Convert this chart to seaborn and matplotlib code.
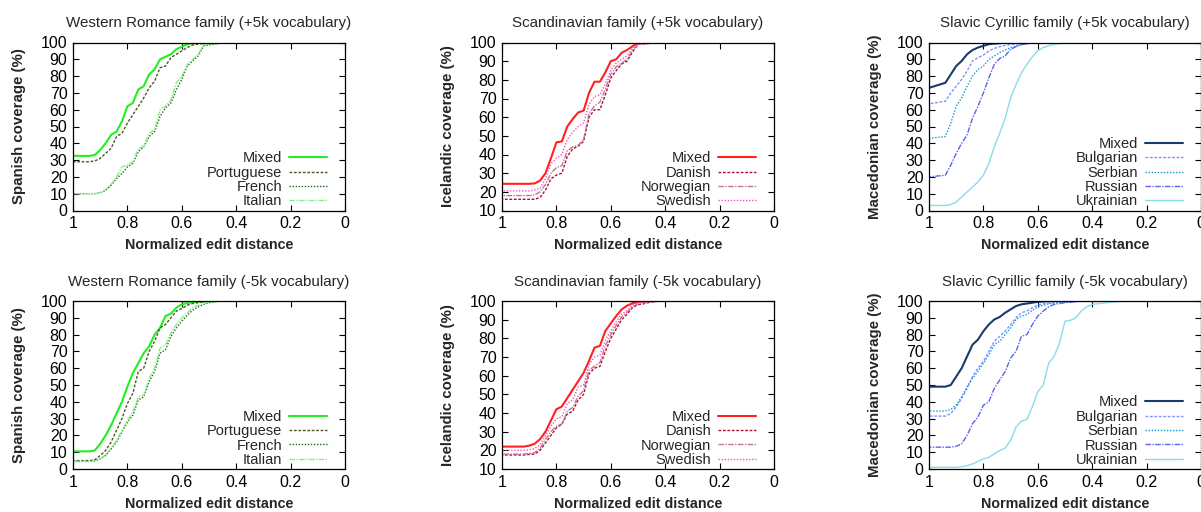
import numpy as np
import pandas as pd
import matplotlib
matplotlib.use("Agg")
import matplotlib.pyplot as plt
import seaborn as sns

# Normalized edit distance grid (shared by all series)
X = [1.00, 0.94, 0.92, 0.90, 0.88, 0.86, 0.84, 0.82, 0.80, 0.78,
     0.76, 0.74, 0.72, 0.70, 0.68, 0.66, 0.64, 0.62, 0.60, 0.58,
     0.56, 0.54, 0.52, 0.50, 0.48, 0.46, 0.44, 0.42, 0.40, 0.30, 0.00]

# --- Western Romance (+5k) : Spanish coverage
rom_p_mixed = [32.5, 32.5, 33, 36, 40, 45, 47, 53, 62, 64,
               72, 74, 81, 84, 90, 91.5, 93, 96, 97.5, 99,
               99.5, 100, 100, 100, 100, 100, 100, 100, 100, 100, 100]
rom_p_portuguese = [29, 29, 29.5, 31, 34, 37, 44, 46, 52, 57,
                    62, 67, 73, 77, 85, 86, 91, 93, 95, 97,
                    98.5, 99, 99.5, 100, 100, 100, 100, 100, 100, 100, 100]
rom_p_french = [10, 10, 10, 10.5, 12, 15, 19, 22, 26, 28,
                35, 38, 44, 47, 56, 61, 64, 72, 78, 86,
                89, 92, 98, 98.5, 99, 99.5, 100, 100, 100, 100, 100]
rom_p_italian = [10, 10, 10, 10.5, 12.5, 15.5, 20, 26, 27, 29,
                 37, 38, 46, 48, 60, 62, 66, 76, 80, 87,
                 90, 93, 98.5, 99, 99.3, 99.7, 100, 100, 100, 100, 100]

# --- Scandinavian (+5k) : Icelandic coverage
sca_p_mixed = [24.3, 24.3, 24.3, 24.3, 24.5, 26, 30, 38, 46.5, 47,
               55, 59, 62.5, 63.5, 73, 79, 79, 84, 90, 91,
               94.5, 96, 98, 100, 100, 100, 100, 100, 100, 100, 100]
sca_p_danish = [16, 16, 16, 16, 16, 17, 21, 27, 29, 30,
                39, 43, 44.5, 47, 60, 64, 64, 72, 81, 85,
                88.5, 90, 95, 99, 99.3, 99.5, 99.7, 100, 100, 100, 100]
sca_p_norwegian = [18, 18, 18, 18, 18.3, 20, 24, 30, 33, 34,
                   42, 44, 45, 48, 62, 66, 68, 75, 83, 87,
                   89, 91, 96, 99, 99.3, 99.5, 99.7, 100, 100, 100, 100]
sca_p_swedish = [20.5, 20.5, 20.5, 20.5, 21, 22, 27, 35, 38, 40,
                 48, 52, 55, 57, 67, 71, 72, 78, 85, 89,
                 91, 93, 97, 99, 99.3, 99.5, 99.7, 100, 100, 100, 100]

# --- Slavic Cyrillic (+5k) : Macedonian coverage
sla_p_mixed = [73, 76, 81, 86, 89, 93, 95.5, 97, 98, 99,
               99.3, 99.6, 99.8, 100, 100, 100, 100, 100, 100, 100,
               100, 100, 100, 100, 100, 100, 100, 100, 100, 100, 100]
sla_p_bulgarian = [63.5, 65, 70, 74, 78, 83, 89, 91, 92.5, 95,
                   96.5, 97.5, 98.3, 98.8, 99.2, 99.5, 99.7, 99.9, 100, 100,
                   100, 100, 100, 100, 100, 100, 100, 100, 100, 100, 100]
sla_p_serbian = [43, 44, 52, 62, 67, 74, 80, 84, 86, 90,
                 92, 94, 95.5, 97, 98, 98.7, 99.2, 99.6, 100, 100,
                 100, 100, 100, 100, 100, 100, 100, 100, 100, 100, 100]
sla_p_russian = [20, 21, 27, 34, 40, 45, 55, 62, 70, 79,
                 87, 90.5, 92, 96, 97.5, 98.8, 99.3, 99.7, 100, 100,
                 100, 100, 100, 100, 100, 100, 100, 100, 100, 100, 100]
sla_p_ukrainian = [3, 3, 3.5, 5, 8, 11, 14, 17, 21, 28,
                   38, 46, 55, 67, 75, 82, 87, 91.5, 95, 97,
                   98, 99, 99.3, 99.6, 99.8, 100, 100, 100, 100, 100, 100]

# --- Western Romance (-5k)
rom_m_mixed = [10.5, 10.5, 11, 15, 20, 26, 33, 40, 49, 57,
               63, 69, 73, 80, 84, 91, 92.5, 96, 98, 98.8,
               99.3, 99.6, 99.8, 100, 100, 100, 100, 100, 100, 100, 100]
rom_m_portuguese = [5, 5, 5.5, 8, 11, 16, 23, 30, 39, 45,
                    58, 60, 70, 76, 84, 86, 90, 94, 95.5, 97.5,
                    98.5, 99, 99.5, 99.8, 100, 100, 100, 100, 100, 100, 100]
rom_m_french = [4.5, 4.5, 4.8, 6, 8, 12, 16, 22, 28, 32,
                41, 43, 52, 58, 69, 71, 79, 84, 88, 91.5,
                94.5, 96.5, 98, 99, 99.5, 100, 100, 100, 100, 100, 100]
rom_m_italian = [4.5, 4.5, 4.8, 6, 8.5, 12.5, 17, 23, 29, 34,
                 43, 44, 54, 60, 72, 74, 81, 86, 90, 93,
                 96, 97.5, 98.5, 99.3, 99.7, 100, 100, 100, 100, 100, 100]

# --- Scandinavian (-5k)
sca_m_mixed = [22, 22, 22, 22.5, 23.5, 26, 30, 36, 42, 43.5,
               48, 52.5, 57, 61.5, 68, 75, 76, 84, 88, 92,
               95.5, 97.5, 98.8, 99.5, 99.8, 100, 100, 100, 100, 100, 100]
sca_m_danish = [17.5, 17.5, 17.5, 17.8, 18, 20, 24, 28, 32, 34,
                39.5, 41, 47, 50, 61, 64, 65, 73, 80, 85,
                90, 93, 96.5, 98, 98.5, 99.2, 99.6, 100, 100, 100, 100]
sca_m_norwegian = [18, 18, 18, 18.3, 18.7, 21, 26, 30, 33, 34,
                   41, 43, 49, 52, 63, 65, 67, 76, 82, 87,
                   91.5, 94, 97, 98.5, 99, 99.4, 99.7, 100, 100, 100, 100]
sca_m_swedish = [20, 20, 20, 20.3, 21, 23, 28, 33, 37, 38,
                 45, 47, 54, 55, 66, 70, 71, 79, 84, 89,
                 93, 95, 98, 99, 99.4, 99.7, 100, 100, 100, 100, 100]

# --- Slavic Cyrillic (-5k)
sla_m_mixed = [49, 49, 50, 55, 60, 67, 74, 77, 82, 86,
               89, 90.5, 93, 95, 97, 98, 98.5, 99, 99.5, 99.7,
               99.9, 100, 100, 100, 100, 100, 100, 100, 100, 100, 100]
sla_m_bulgarian = [31.5, 31.5, 33, 37, 42, 48, 55, 60, 64, 70,
                   76, 79, 82, 86, 90, 93, 94, 96, 97.5, 98.3,
                   98.8, 99.2, 99.5, 99.7, 99.8, 99.9, 100, 100, 100, 100, 100]
sla_m_serbian = [34.5, 34.5, 35.5, 38, 43, 49, 54, 58, 63, 68,
                 74, 76, 80, 84, 89, 91, 92, 94.5, 96.5, 97.5,
                 98.3, 98.8, 99.2, 99.4, 99.6, 99.8, 100, 100, 100, 100, 100]
sla_m_russian = [13, 13, 13, 13.5, 15, 20, 27, 31, 38, 40,
                 48, 53, 58, 66, 70, 79, 80, 86, 91, 94,
                 96.5, 98, 98.5, 99, 99.3, 99.6, 99.8, 100, 100, 100, 100]
sla_m_ukrainian = [1, 1, 1, 1, 1.3, 2, 3, 4.5, 6, 7,
                   9, 11, 12.5, 17, 25, 28.5, 29.5, 37, 46, 50,
                   63, 67, 75, 88, 88.5, 90, 94, 96.5, 98, 99.8, 100]

rom_labels = ["Mixed", "Portuguese", "French", "Italian"]
sca_labels = ["Mixed", "Danish", "Norwegian", "Swedish"]
sla_labels = ["Mixed", "Bulgarian", "Serbian", "Russian", "Ukrainian"]

titles = [
    "Western Romance family (+5k vocabulary)",
    "Scandinavian family (+5k vocabulary)",
    "Slavic Cyrillic family (+5k vocabulary)",
    "Western Romance family (-5k vocabulary)",
    "Scandinavian family (-5k vocabulary)",
    "Slavic Cyrillic family (-5k vocabulary)",
]
ylabels = ["Spanish coverage (%)", "Icelandic coverage (%)", "Macedonian coverage (%)"]
xlabel = "Normalized edit distance"
xtick_vals = [1, 0.8, 0.6, 0.4, 0.2, 0]
xtick_labels = ["1", "0.8", "0.6", "0.4", "0.2", "0"]

rom_styles = [("#22ee22", "-", 1.5), ("#4a5a22", (0, (2, 1.2)), 1.0),
              ("#1a6a1a", (0, (1, 1.2)), 1.0), ("#88ee88", (0, (4, 1, 1, 1)), 1.0)]
sca_styles = [("#ff2020", "-", 1.5), ("#b01030", (0, (2, 1.2)), 1.0),
              ("#c07890", (0, (4, 1, 1, 1)), 1.0), ("#ee55cc", (0, (1, 1.2)), 1.0)]
sla_styles = [("#1a3a6a", "-", 1.5), ("#7f90ff", (0, (2, 1.2)), 1.0),
              ("#1199cc", (0, (1, 1.2)), 1.0), ("#5c64ee", (0, (4, 1, 1, 1)), 1.0),
              ("#88dde8", "-", 1.0)]

sns.set_style("ticks")
plt.rcParams["font.family"] = ["Liberation Sans", "DejaVu Sans"]

W, H = 1201, 512
fig = plt.figure(figsize=(W / 100, H / 100), dpi=100)

lefts = [73, 502, 929]
tops = [42.5, 301]
aw, ah = 272, 168

panels = [
    (0, 0, [rom_p_mixed, rom_p_portuguese, rom_p_french, rom_p_italian], rom_labels, rom_styles, (0, 100), 0),
    (0, 1, [sca_p_mixed, sca_p_danish, sca_p_norwegian, sca_p_swedish], sca_labels, sca_styles, (10, 100), 1),
    (0, 2, [sla_p_mixed, sla_p_bulgarian, sla_p_serbian, sla_p_russian, sla_p_ukrainian], sla_labels, sla_styles, (0, 100), 2),
    (1, 0, [rom_m_mixed, rom_m_portuguese, rom_m_french, rom_m_italian], rom_labels, rom_styles, (0, 100), 3),
    (1, 1, [sca_m_mixed, sca_m_danish, sca_m_norwegian, sca_m_swedish], sca_labels, sca_styles, (10, 100), 4),
    (1, 2, [sla_m_mixed, sla_m_bulgarian, sla_m_serbian, sla_m_russian, sla_m_ukrainian], sla_labels, sla_styles, (0, 100), 5),
]

for row, col, series, labels, styles, ylim, ti in panels:
    l = lefts[col]
    t = tops[row]
    ax = fig.add_axes([l / W, 1 - (t + ah) / H, aw / W, ah / H])
    for vals, lab, (c, ls, lw) in zip(series, labels, styles):
        df = pd.DataFrame({"x": X, "y": vals})
        sns.lineplot(data=df, x="x", y="y", ax=ax, color=c, linestyle=ls,
                     linewidth=lw, label=lab, sort=True, estimator=None)
    ax.set_xlim(1, 0)
    ax.set_ylim(*ylim)
    ax.set_xticks(xtick_vals)
    ax.set_xticklabels(xtick_labels)
    ax.set_yticks(np.arange(ylim[0], 101, 10))
    ax.tick_params(direction="in", top=True, right=True, length=4, width=0.8,
                   labelsize=11.5, colors="black", pad=4)
    for s in ax.spines.values():
        s.set_linewidth(0.9)
        s.set_color("black")
    ax.set_title(titles[ti], fontsize=10.9, pad=11)
    ax.set_xlabel(xlabel, fontsize=10.3, fontweight="bold", labelpad=5)
    ax.set_ylabel(ylabels[col], fontsize=10.8, fontweight="bold", labelpad=11)
    leg = ax.legend(loc="lower right", bbox_to_anchor=(0.935, 0.012),
                    frameon=False, markerfirst=False,
                    fontsize=10.5, handlelength=2.6, handletextpad=0.5,
                    labelspacing=0.03, borderaxespad=0.0, borderpad=0.0)

fig.savefig("out.png", dpi=100)
